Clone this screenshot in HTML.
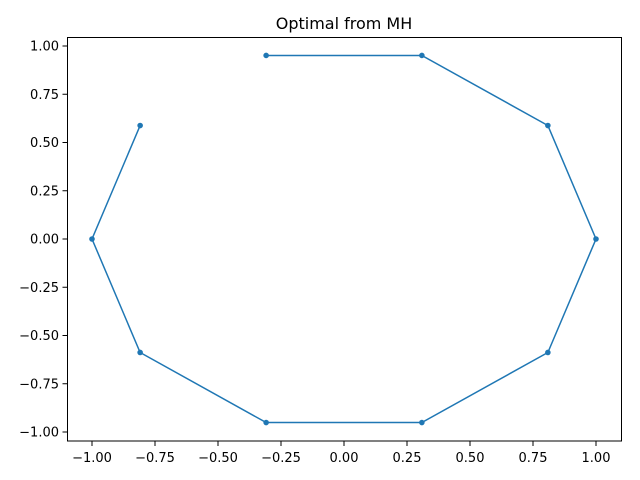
<!DOCTYPE html>
<html><head><meta charset="utf-8"><style>
body{margin:0;background:#fff;}
svg{display:block;font-family:"DejaVu Sans","Liberation Sans",sans-serif;}
</style></head><body>
<svg id="chart" width="640" height="480" xmlns="http://www.w3.org/2000/svg">
<text x="344" y="29" font-size="16" text-anchor="middle">Optimal from MH</text>
<g id="plot"></g>
<rect x="67.5" y="37.5" width="554" height="403.5" fill="none" stroke="#000" stroke-width="1"/>
</svg>
<script>
const xs = [-0.309, 0.309, 0.809, 1.0, 0.809, 0.309, -0.309, -0.809, -1.0, -0.809];
const ys = [0.951, 0.951, 0.588, 0.0, -0.588, -0.951, -0.951, -0.588, 0.0, 0.588];
const xTicks = [-1.0, -0.75, -0.5, -0.25, 0.0, 0.25, 0.5, 0.75, 1.0];
const xTickLabels = ["−1.00","−0.75","−0.50","−0.25","0.00","0.25","0.50","0.75","1.00"];
const yTicks = [1.0, 0.75, 0.5, 0.25, 0.0, -0.25, -0.5, -0.75, -1.0];
const yTickLabels = ["1.00","0.75","0.50","0.25","0.00","−0.25","−0.50","−0.75","−1.00"];

const X = v => 344 + v * 252;
const Y = v => 239 - v * 193;
const NS = "http://www.w3.org/2000/svg";
const g = document.getElementById('plot');
function mk(tag, attrs){const e=document.createElementNS(NS,tag);for(const k in attrs)e.setAttribute(k,attrs[k]);g.appendChild(e);return e;}

xTicks.forEach((t,i)=>{
  const l=mk('line',{x1:X(t),x2:X(t),y1:441,y2:446,stroke:'#000'});
  
  
  const tx=mk('text',{x:X(t),y:462,'font-size':'13','text-anchor':'middle'});
  tx.textContent=xTickLabels[i];
  
  
});
yTicks.forEach((t,i)=>{
  const l=mk('line',{x1:62.5,x2:67.5,y1:Y(t),y2:Y(t),stroke:'#000'});
  
  
  const tx=mk('text',{x:59,y:Y(t)+4.5,'font-size':'13','text-anchor':'end'});
  tx.textContent=yTickLabels[i];
  
  
});
const pts=xs.map((x,i)=>X(x)+','+Y(ys[i])).join(' ');
const pl=mk('polyline',{points:pts,fill:'none',stroke:'#1f77b4','stroke-width':'1.5'});


xs.forEach((x,i)=>{
  const c=mk('circle',{cx:X(x),cy:Y(ys[i]),r:'2.8',fill:'#1f77b4'});
  
  
});
</script>
</body></html>
